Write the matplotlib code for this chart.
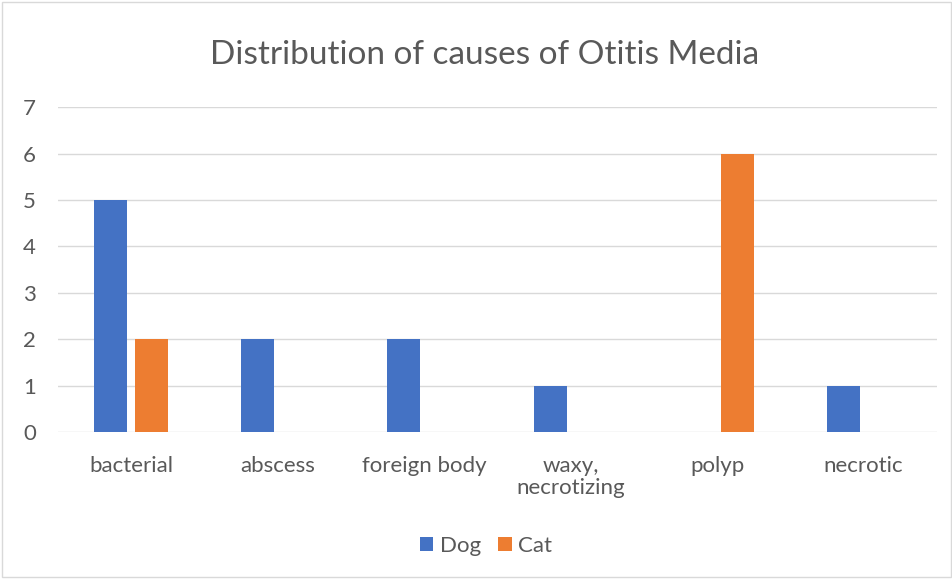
import matplotlib.pyplot as plt
import numpy as np

plt.rcParams['font.family'] = ['Lato', 'DejaVu Sans']

categories = ["bacterial", "abscess", "foreign body", "waxy,\nnecrotizing", "polyp", "necrotic"]
dog = [5, 2, 2, 1, 0, 1]
cat = [2, 0, 0, 0, 6, 0]

fig = plt.figure(figsize=(9.53, 5.79), dpi=100)
ax = fig.add_axes([0.061, 0.254, 0.922, 0.561])

x = np.arange(len(categories))
w = 0.225
ax.bar(x - 0.14, dog, w, color='#4472C4', label='Dog', zorder=3)
ax.bar(x + 0.14, cat, w, color='#ED7D31', label='Cat', zorder=3)

ax.set_xlim(-0.5, len(categories) - 0.5)
ax.set_ylim(0, 7)
ax.set_yticks(range(8))
ax.yaxis.grid(True, color='#D9D9D9', linewidth=1, zorder=0)
for s in ax.spines.values():
    s.set_visible(False)
ax.tick_params(length=0, labelsize=16, colors='#595959')
ax.tick_params(axis='y', pad=16)
ax.tick_params(axis='x', pad=17)
ax.set_xticks(x)
ax.set_xticklabels(categories, linespacing=1.15)

fig.text(0.508, 0.905, "Distribution of causes of Otitis Media", ha='center', va='center',
         fontsize=24, color='#595959')

fig.legend(loc='center', bbox_to_anchor=(0.51, 0.057), ncol=2, frameon=False,
           fontsize=16, labelcolor='#595959', handlelength=0.6, handleheight=0.6,
           handletextpad=0.3, columnspacing=0.8)

fig.patches.append(plt.Rectangle((0.002, 0.003), 0.996, 0.994, transform=fig.transFigure,
                                 fill=False, edgecolor='#D9D9D9', linewidth=1))

plt.savefig('out.png', dpi=100)
